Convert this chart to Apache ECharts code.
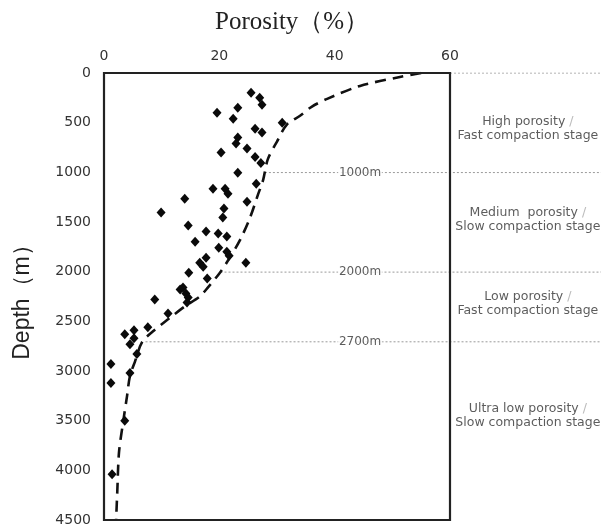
<!DOCTYPE html>
<html><head><meta charset="utf-8">
<script src="https://cdn.jsdelivr.net/npm/echarts@6/dist/echarts.min.js"></script>
<style>html,body{margin:0;padding:0;background:#fff}#c{width:601px;height:527px}</style>
</head><body><div id="c"></div>
<script>
// Measured samples: porosity (%) and depth (m)
const samplePorosity = [25.5,27.0,27.4,23.2,19.6,22.4,30.9,26.2,27.4,23.2,22.9,24.8,20.3,26.2,27.2,23.2,26.4,18.9,21.0,21.5,14.0,24.8,9.9,20.8,20.6,14.6,17.7,19.8,21.3,15.8,19.9,21.3,21.7,17.7,16.6,17.2,24.6,14.7,17.9,13.2,13.7,14.2,14.6,14.4,8.8,11.1,7.6,3.6,5.2,5.2,4.5,5.7,1.2,1.2,4.5,3.6,1.4];
const sampleDepth    = [200,250,320,350,400,460,500,560,600,650,710,760,800,845,905,1005,1115,1165,1165,1215,1265,1295,1405,1365,1455,1535,1595,1615,1645,1700,1760,1800,1840,1860,1910,1950,1910,2010,2070,2180,2160,2220,2260,2310,2280,2420,2560,2630,2590,2670,2730,2830,2930,3120,3020,3500,4040];
// Compaction trend curve
const curvePorosity = [55,51.3,44.4,38.7,36,34,31.7,30,28.4,27.6,26.7,25.3,23.6,21.8,20.1,18,16.6,14,11.1,8.5,6.6,5.4,4.5,4,3.3,2.6,2.3,2.1];
const curveDepth    = [0,40,130,260,340,430,520,690,870,1075,1225,1460,1680,1860,2010,2160,2250,2350,2480,2600,2710,2900,3050,3250,3520,3820,4220,4500];
// Stage boundaries
const boundaryDepth = [0,1000,2000,2700];
const boundaryStart = [60,27.9,20.2,7.2];
const boundaryLabel = ['','1000m','2000m','2700m'];
const boundaryLabelX = 44.4;
// Stage annotations
const stageTop = ['High porosity','Medium  porosity','Low porosity','Ultra low porosity'];
const stageBottom = ['Fast compaction stage','Slow compaction stage','Fast compaction stage','Slow compaction stage'];
const stageDepth = [560,1470,2320,3440];
const stageX = 73.5;
// Axis ticks
const xTicks = [0,20,40,60];
const yTicks = [0,500,1000,1500,2000,2500,3000,3500,4000,4500];

const plotLeft = 104, plotRight = 450, W = 601;
const xMax = xTicks[xTicks.length-1];
const xMaxWide = xMax * (W - plotLeft) / (plotRight - plotLeft);

const chart = echarts.init(document.getElementById('c'));
const series = [];
series.push({
  type:'line', data: curvePorosity.map((p,i)=>[p,curveDepth[i]]), smooth:0.3, showSymbol:false, symbol:'none',
  lineStyle:{color:'#111', width:2.6, type:[11,7]}, z:3, silent:true
});
boundaryDepth.forEach((d,i)=>{
  series.push({
    type:'line', xAxisIndex:1, yAxisIndex:1, data:[[boundaryStart[i],d],[xMaxWide,d]], showSymbol:false, symbol:'none',
    lineStyle:{color:'#9a9a9a', width:1, type:[2,2]}, z:1, silent:true
  });
});
series.push({
  type:'scatter', xAxisIndex:1, yAxisIndex:1, symbolSize:0, z:4,
  data: boundaryDepth.map((d,i)=>({value:[boundaryLabelX,d], name:boundaryLabel[i]})).filter(o=>o.name),
  label:{show:true, position:'inside', formatter:p=>p.name, color:'#333', fontSize:12, fontFamily:'DejaVu Sans', backgroundColor:'#fff', padding:[0,1]}
});
series.push({
  type:'scatter', xAxisIndex:1, yAxisIndex:1, symbolSize:0, z:4,
  data: stageDepth.map((d,i)=>({value:[stageX,d], top:stageTop[i], bottom:stageBottom[i]})),
  label:{show:true, position:'inside', align:'center', lineHeight:14,
    formatter:p=>'{a|'+p.data.top+' }{s|/}\n{a|'+p.data.bottom+'}',
    rich:{a:{color:'#333', fontSize:12.5, fontFamily:'DejaVu Sans', lineHeight:14}, s:{color:'#aaa', fontSize:12.5, fontFamily:'DejaVu Sans', lineHeight:14}}
  }
});
series.push({
  type:'scatter', data: samplePorosity.map((p,i)=>[p,sampleDepth[i]]), symbol:'diamond', symbolSize:[9,10],
  itemStyle:{color:'#0a0a0a', opacity:1}, z:5
});

chart.setOption({
  animation:false,
  grid:[
    {left:plotLeft, right:W-plotRight, top:73, bottom:6, show:true, borderColor:'#222', borderWidth:2.2, backgroundColor:'transparent', z:6},
    {left:plotLeft, right:0, top:73, bottom:6, show:false}
  ],
  graphic:[{type:'text', left:215, top:10, style:{text:'Porosity（%）', fill:'#222', font:'25px "Liberation Serif"'}}],
  xAxis:[
    {type:'value', gridIndex:0, position:'top', min:xTicks[0], max:xMax, interval:20,
      axisLine:{show:false}, axisTick:{show:false}, splitLine:{show:false},
      axisLabel:{color:'#333', fontSize:14, fontFamily:'DejaVu Sans', margin:10}},
    {type:'value', gridIndex:1, min:0, max:xMaxWide, show:false}
  ],
  yAxis:[
    {type:'value', gridIndex:0, inverse:true, min:yTicks[0], max:yTicks[yTicks.length-1], interval:500,
      name:'Depth（m）', nameLocation:'middle', nameGap:70, nameTextStyle:{color:'#222', fontSize:23, fontFamily:'Liberation Sans'},
      axisLine:{show:false}, axisTick:{show:false}, splitLine:{show:false},
      axisLabel:{color:'#333', fontSize:14, fontFamily:'DejaVu Sans', margin:13, formatter:v=>String(v)}},
    {type:'value', gridIndex:1, inverse:true, min:yTicks[0], max:yTicks[yTicks.length-1], show:false}
  ],
  series
});
</script></body></html>
